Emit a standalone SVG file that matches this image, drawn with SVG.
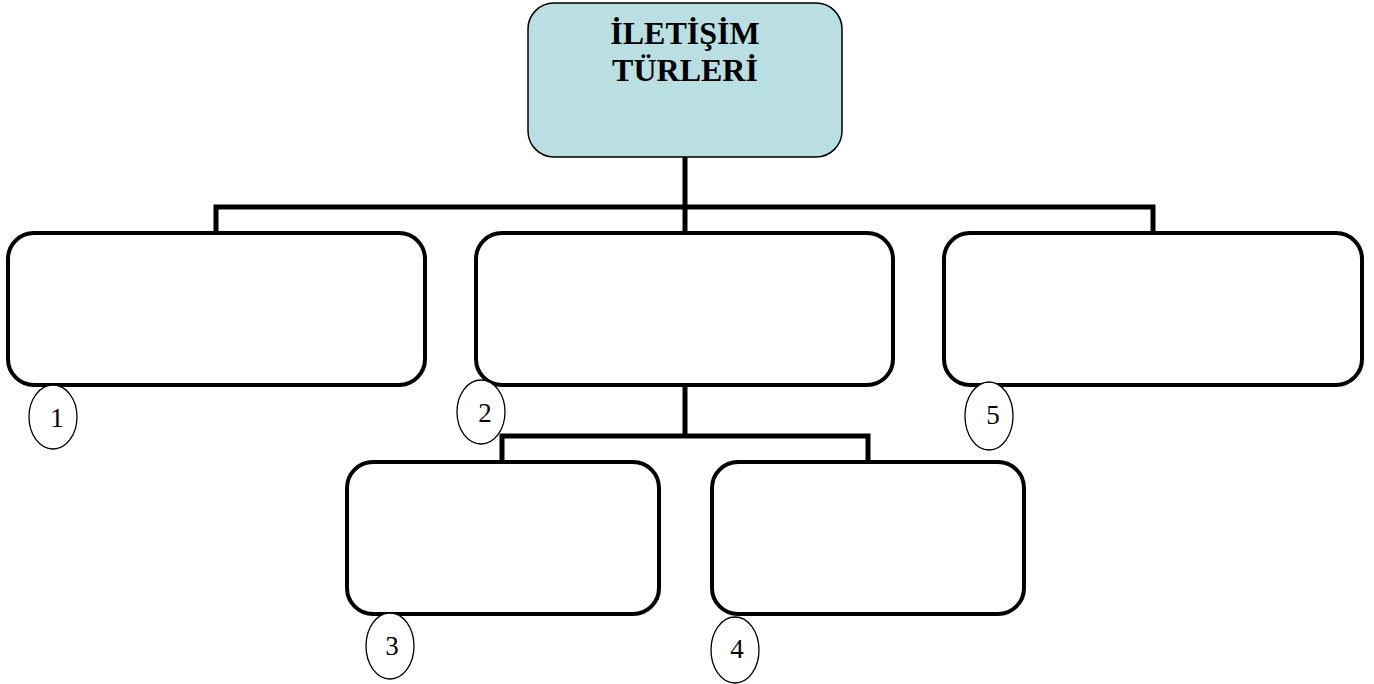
<svg xmlns="http://www.w3.org/2000/svg" width="1374" height="684" viewBox="0 0 1374 684">
<style>
.box{fill:#ffffff;stroke:#000000;stroke-width:4}
.root{fill:#BADFE3;stroke:#000000;stroke-width:1.5}
.conn{fill:none;stroke:#000000;stroke-width:5;stroke-linecap:square}
.tag{fill:#ffffff;stroke:#000000;stroke-width:1.3}
.title{font-family:"Liberation Serif","Times New Roman",serif;font-weight:bold;font-size:32px;fill:#000000;text-anchor:middle}
.num{font-family:"Liberation Serif","Times New Roman",serif;font-size:27px;fill:#000000;text-anchor:middle}
</style>
<rect width="1374" height="684" fill="#ffffff"/>
<g id="connectors">
<path class="conn" d="M685 157 V233 M216 207 H1153 M216 207 V233 M1153 207 V233"/>
<path class="conn" d="M685 386 V436 M502 436 H868 M502 436 V462 M868 436 V462"/>
</g>
<g id="root">
<rect class="root" x="528" y="3" width="314" height="154" rx="26" ry="26"/>
<text class="title" x="685" y="44">İLETİŞİM</text>
<text class="title" x="685" y="81">TÜRLERİ</text>
</g>
<g id="node1">
<rect class="box" x="8" y="233" width="417" height="152" rx="26" ry="26"/>
</g>
<g id="node2">
<rect class="box" x="476" y="233" width="417" height="152" rx="26" ry="26"/>
</g>
<g id="node5">
<rect class="box" x="944" y="233" width="418" height="152" rx="26" ry="26"/>
</g>
<g id="node3">
<rect class="box" x="347" y="462" width="312" height="152" rx="26" ry="26"/>
</g>
<g id="node4">
<rect class="box" x="712" y="462" width="312" height="152" rx="26" ry="26"/>
</g>
<g id="tag1">
<ellipse class="tag" cx="53" cy="417" rx="24" ry="32"/>
<text class="num" x="57" y="427">1</text>
</g>
<g id="tag2">
<ellipse class="tag" cx="481" cy="412" rx="24" ry="32"/>
<text class="num" x="485" y="422">2</text>
</g>
<g id="tag5">
<ellipse class="tag" cx="989" cy="416" rx="24" ry="34"/>
<text class="num" x="993" y="424">5</text>
</g>
<g id="tag3">
<ellipse class="tag" cx="390" cy="646" rx="24" ry="33"/>
<text class="num" x="392" y="655">3</text>
</g>
<g id="tag4">
<ellipse class="tag" cx="735" cy="650" rx="24" ry="33"/>
<text class="num" x="737" y="658">4</text>
</g>
</svg>
